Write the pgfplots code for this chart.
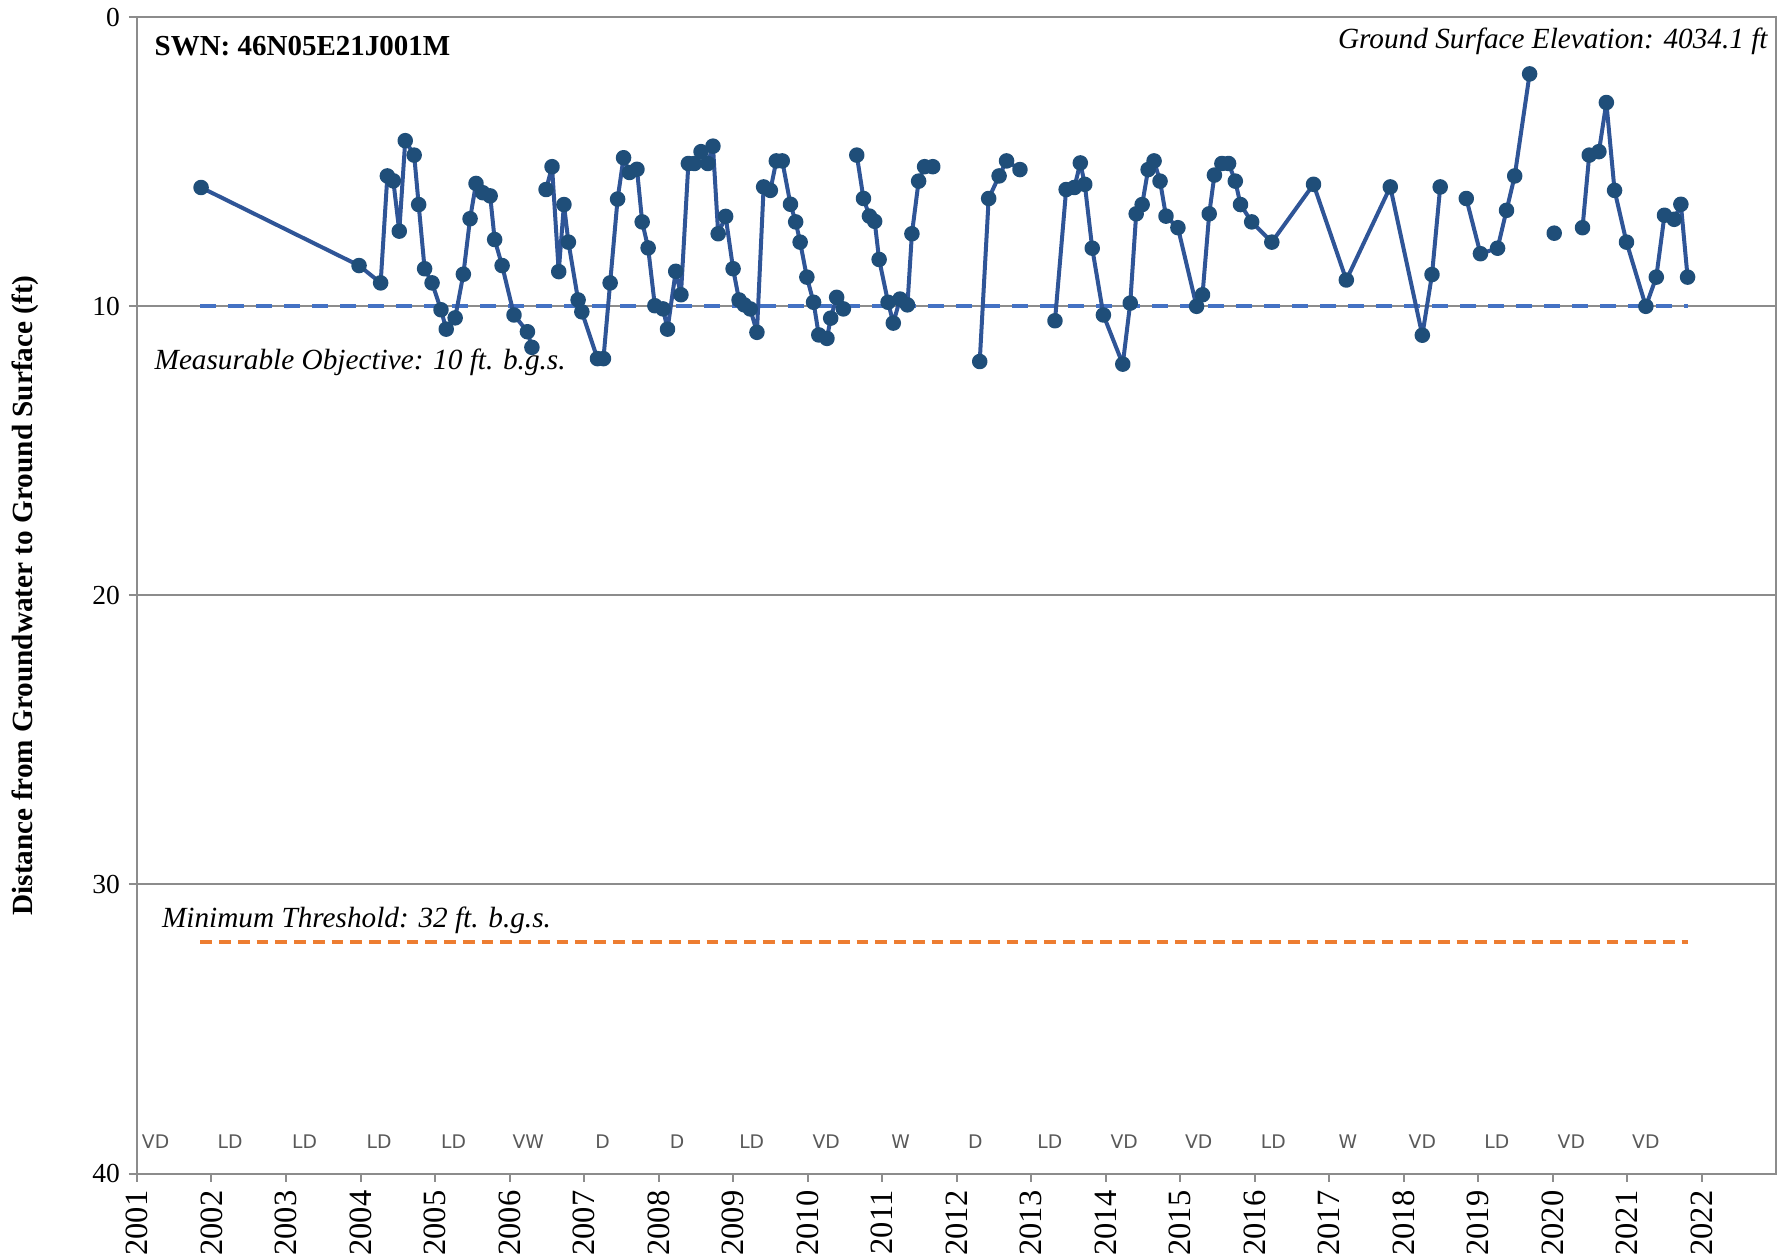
\documentclass[border=0pt]{standalone}
\usepackage{pgfplots}
\pgfplotsset{compat=1.18}
\usepackage{pgfplotstable}
\usepackage{fontspec}
\setmainfont{Liberation Serif}
\newfontfamily\seasonfont{DejaVu Sans}
\definecolor{lineblue}{HTML}{2F5597}
\definecolor{markblue}{HTML}{1F4E79}
\definecolor{mobl}{HTML}{4472C4}
\definecolor{mtor}{HTML}{ED7D31}
\definecolor{gridgray}{HTML}{8C8C8C}
\definecolor{seasongray}{HTML}{595959}

\pgfplotstableread{
x y
2001.86 5.89
2003.98 8.59
2004.27 9.19
2004.36 5.49
2004.44 5.66
2004.52 7.40
2004.60 4.27
2004.72 4.77
2004.78 6.48
2004.86 8.70
2004.96 9.19
2005.08 10.12
2005.15 10.79
2005.27 10.40
2005.38 8.89
2005.47 6.97
2005.55 5.75
2005.64 6.07
2005.74 6.18
2005.80 7.69
2005.90 8.59
2006.06 10.30
2006.24 10.88
2006.30 11.42
nan nan
2006.49 5.96
2006.57 5.17
2006.66 8.80
2006.73 6.48
2006.79 7.78
2006.92 9.78
2006.97 10.19
2007.18 11.81
2007.26 11.81
2007.35 9.19
2007.45 6.29
2007.53 4.86
2007.61 5.37
2007.71 5.26
2007.78 7.08
2007.86 7.98
2007.95 9.98
2008.06 10.09
2008.12 10.79
2008.23 8.79
2008.30 9.60
2008.40 5.06
2008.48 5.06
2008.57 4.65
2008.66 5.06
2008.73 4.46
2008.80 7.49
2008.90 6.89
2009.00 8.70
2009.08 9.78
2009.15 9.95
2009.23 10.09
2009.32 10.90
2009.41 5.87
2009.50 5.99
2009.58 4.97
2009.66 4.97
2009.77 6.47
2009.84 7.08
2009.90 7.78
2009.99 8.99
2010.08 9.86
2010.15 10.99
2010.26 11.11
2010.31 10.41
2010.39 9.69
2010.48 10.09
nan nan
2010.66 4.77
2010.75 6.27
2010.83 6.88
2010.90 7.06
2010.96 8.38
2011.08 9.86
2011.15 10.58
2011.24 9.75
2011.34 9.95
2011.40 7.49
2011.49 5.67
2011.57 5.17
2011.68 5.17
nan nan
2012.31 11.91
2012.43 6.27
2012.57 5.49
2012.67 4.97
2012.85 5.27
nan nan
2013.32 10.50
2013.47 5.96
2013.58 5.89
2013.66 5.04
2013.72 5.78
2013.82 7.99
2013.97 10.30
2014.23 12.00
2014.33 9.89
2014.41 6.80
2014.49 6.48
2014.57 5.27
2014.65 4.97
2014.73 5.67
2014.81 6.88
2014.97 7.28
2015.22 10.00
2015.30 9.60
2015.39 6.80
2015.46 5.46
2015.56 5.06
2015.65 5.06
2015.74 5.67
2015.81 6.48
2015.96 7.08
2016.23 7.78
2016.79 5.78
2017.23 9.09
2017.82 5.87
2018.25 11.00
2018.38 8.90
2018.49 5.87
nan nan
2018.84 6.27
2019.03 8.18
2019.26 7.99
2019.38 6.68
2019.49 5.49
2019.69 1.96
nan nan
2020.02 7.47
nan nan
2020.40 7.28
2020.49 4.77
2020.62 4.65
2020.72 2.95
2020.83 5.99
2020.99 7.78
2021.25 10.00
2021.39 8.99
2021.50 6.85
2021.63 6.99
2021.72 6.47
2021.81 8.99
}\gw

\begin{document}
\begin{tikzpicture}
\begin{axis}[
  at={(0,0)}, anchor=south west,
  scale only axis, width=655.7pt, height=462.5pt,
  xmin=2001, xmax=2023, ymin=0, ymax=40, y dir=reverse,
  xtick={2001,2002,...,2022},
  xticklabels={2001,2002,2003,2004,2005,2006,2007,2008,2009,2010,2011,2012,2013,2014,2015,2016,2017,2018,2019,2020,2021,2022},
  ytick={0,10,20,30,40},
  /pgf/number format/assume math mode=true,
  xticklabel style={rotate=90, anchor=east, font=\rmfamily\fontsize{13}{13}\selectfont},
  yticklabel style={font=\rmfamily\fontsize{11}{11}\selectfont},
  xtick pos=bottom, ytick pos=left,
  tick align=outside, major tick length=3.3pt,
  axis line style={gridgray, line width=0.8pt},
  tick style={gridgray, line width=0.8pt},
  ymajorgrids, grid style={gridgray, line width=0.8pt},
  ylabel={Distance from Groundwater to Ground Surface (ft)},
  ylabel style={at={(axis description cs:-0.0683,0.5)}, anchor=center, font=\rmfamily\bfseries\fontsize{11.7}{12}\selectfont},
  unbounded coords=jump,
  clip=false,
]
\addplot[mobl, line width=1.6pt, dash pattern=on 6.3pt off 4.9pt] coordinates {(2001.85,10) (2021.82,10)};
\addplot[mtor, line width=1.5pt, dash pattern=on 4.7pt off 2.8pt] coordinates {(2001.85,32) (2021.82,32)};
\addplot[lineblue, line width=1.6pt, line join=round, mark=*, mark size=2.3pt, mark options={markblue, fill=markblue, solid}] table {\gw};

\begin{scope}[every node/.style={inner sep=0pt}]
\node[anchor=west, font=\bfseries\fontsize{11.6}{12}\selectfont] at (axis cs:2001.23,0.99) {SWN: 46N05E21J001M};
\node[anchor=east, font=\itshape\fontsize{11.7}{12}\selectfont] at (axis cs:2022.89,0.83) {Ground Surface Elevation: 4034.1 ft};
\node[anchor=west, font=\itshape\fontsize{11.7}{12}\selectfont] at (axis cs:2001.23,11.95) {Measurable Objective: 10 ft. b.g.s.};
\node[anchor=west, font=\itshape\fontsize{11.7}{12}\selectfont] at (axis cs:2001.33,31.25) {Minimum Threshold: 32 ft. b.g.s.};
\end{scope}

\begin{scope}[every node/.style={font=\seasonfont\fontsize{7.5}{7.5}\selectfont, text=seasongray, anchor=center, inner sep=0pt}]
\node at (axis cs:2001.25,38.9) {VD};
\node at (axis cs:2002.25,38.9) {LD};
\node at (axis cs:2003.25,38.9) {LD};
\node at (axis cs:2004.25,38.9) {LD};
\node at (axis cs:2005.25,38.9) {LD};
\node at (axis cs:2006.25,38.9) {VW};
\node at (axis cs:2007.25,38.9) {D};
\node at (axis cs:2008.25,38.9) {D};
\node at (axis cs:2009.25,38.9) {LD};
\node at (axis cs:2010.25,38.9) {VD};
\node at (axis cs:2011.25,38.9) {W};
\node at (axis cs:2012.25,38.9) {D};
\node at (axis cs:2013.25,38.9) {LD};
\node at (axis cs:2014.25,38.9) {VD};
\node at (axis cs:2015.25,38.9) {VD};
\node at (axis cs:2016.25,38.9) {LD};
\node at (axis cs:2017.25,38.9) {W};
\node at (axis cs:2018.25,38.9) {VD};
\node at (axis cs:2019.25,38.9) {LD};
\node at (axis cs:2020.25,38.9) {VD};
\node at (axis cs:2021.25,38.9) {VD};
\end{scope}
\end{axis}
\pgfresetboundingbox
\useasboundingbox (-54.8pt,-33pt) rectangle (661.2pt,469.4pt);
\end{tikzpicture}
\end{document}
